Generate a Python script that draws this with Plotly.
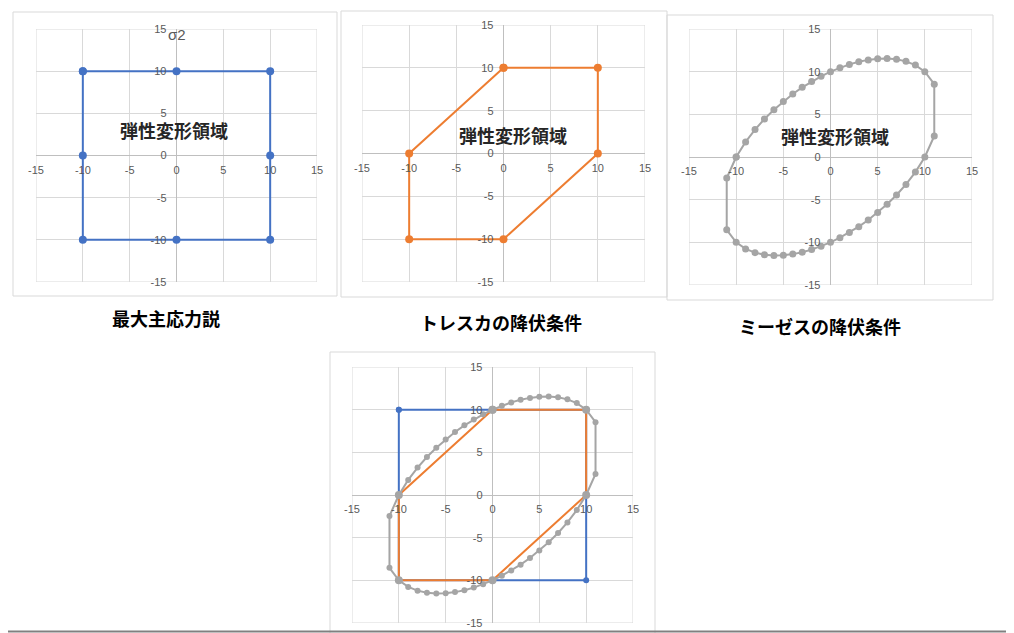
import plotly.graph_objects as go

W, H = 1014, 633
OFF = 8  # ページの余白

# 最大主応力説
max_x = [-10, 0, 10, 10, 10, 0, -10, -10, -10]
max_y = [10, 10, 10, 0, -10, -10, -10, 0, 10]

# トレスカの降伏条件
tresca_x = [0, 10, 10, 0, -10, -10, 0]
tresca_y = [10, 10, 0, -10, -10, 0, 10]

# ミーゼスの降伏条件 (読み取り値)
mises_x = [-10, -9, -8, -7, -6, -5, -4, -3, -2, -1, 0, 1, 2, 3, 4, 5, 6, 7, 8, 9, 10, 11,
           11, 10, 9, 8, 7, 6, 5, 4, 3, 2, 1, 0, -1, -2, -3, -4, -5, -6, -7, -8, -9, -10, -11,
           -11, -10]
mises_y = [0, 1.77, 3.21, 4.45, 5.54, 6.51, 7.38, 8.16, 8.85, 9.46, 10, 10.46, 10.85, 11.16,
           11.38, 11.51, 11.54, 11.45, 11.21, 10.77, 10, 8.54,
           2.46, 0, -1.77, -3.21, -4.45, -5.54, -6.51, -7.38, -8.16, -8.85, -9.46, -10, -10.46,
           -10.85, -11.16, -11.38, -11.51, -11.54, -11.45, -11.21, -10.77, -10, -8.54,
           -2.46, 0]

tick_vals = [-15, -10, -5, 0, 5, 10, 15]
tick_text = ["-15", "-10", "-5", "0", "5", "10", "15"]

label_area = "弾性変形領域"
titles = ["最大主応力説", "トレスカの降伏条件", "ミーゼスの降伏条件"]

BLUE, ORANGE, GREY = "#4472C4", "#ED7D31", "#A5A5A5"
JP = "Noto Sans CJK JP"


def fx(px):
    return (px - OFF) / W


def fy(py):
    return 1 - (py - OFF) / H


# プロット領域 (ピクセル: 左, 右, 上, 下)
areas = [(36, 317, 29, 282), (362, 645, 25, 282), (689, 972, 29, 285), (352, 633, 367, 623)]
# グラフの枠
frames = [(13, 337, 12, 296), (341, 667, 11, 297), (667, 993, 15, 300), (330, 655, 352, 645)]

fig = go.Figure()


def add_line(n, xs, ys, color, msize, mcolor=None):
    fig.add_trace(go.Scatter(
        x=xs, y=ys, mode="lines+markers",
        line=dict(color=color, width=2),
        marker=dict(color=mcolor or color, size=msize),
        xaxis="x" if n == 1 else f"x{n}",
        yaxis="y" if n == 1 else f"y{n}",
        showlegend=False, hoverinfo="x+y",
    ))


add_line(1, max_x, max_y, BLUE, 8)
add_line(2, tresca_x, tresca_y, ORANGE, 8)
add_line(3, mises_x, mises_y, GREY, 7)
add_line(4, max_x, max_y, BLUE, 6)
add_line(4, tresca_x, tresca_y, ORANGE, 8, GREY)
add_line(4, mises_x, mises_y, GREY, 6)

layout = dict(
    width=W, height=H,
    margin=dict(l=0, r=0, t=0, b=0, pad=0, autoexpand=False),
    paper_bgcolor="white", plot_bgcolor="white",
    font=dict(family="Liberation Sans", color="#595959", size=10),
)

shapes = []
annotations = []
for i, (l, r, t, b) in enumerate(areas):
    n = i + 1
    xk = "xaxis" if n == 1 else f"xaxis{n}"
    yk = "yaxis" if n == 1 else f"yaxis{n}"
    xref = "x" if n == 1 else f"x{n}"
    yref = "y" if n == 1 else f"y{n}"
    common = dict(range=[-15, 15], tickvals=tick_vals, ticktext=tick_text,
                  showgrid=True, gridcolor="#d9d9d9", gridwidth=1,
                  zeroline=True, zerolinecolor="#bfbfbf", zerolinewidth=1,
                  showline=False, ticks="", fixedrange=True, automargin=False,
                  tickfont=dict(size=11, color="#595959"))
    layout[xk] = dict(common, domain=[fx(l), fx(r)], anchor="free",
                      position=fy((t + b) / 2), ticklabelstandoff=6)
    layout[yk] = dict(common, domain=[fy(b), fy(t)], anchor="free",
                      position=fx((l + r) / 2), ticklabelstandoff=10)
    # プロット領域の外枠 (±15 のグリッド線)
    shapes.append(dict(type="rect", xref=xref, yref=yref, x0=-15, x1=15, y0=-15, y1=15,
                       line=dict(color="#d9d9d9", width=1), layer="below"))

for (l, r, t, b) in frames:
    shapes.append(dict(type="rect", xref="paper", yref="paper",
                       x0=fx(l), x1=fx(r), y0=fy(b), y1=fy(t),
                       line=dict(color="#d9d9d9", width=1)))

# 画面の枠
shapes.append(dict(type="line", xref="paper", yref="paper", x0=fx(1011), x1=fx(1011),
                   y0=fy(-10), y1=fy(631.5), line=dict(color="#808080", width=2)))
shapes.append(dict(type="line", xref="paper", yref="paper", x0=fx(-10), x1=fx(1012),
                   y0=fy(631.5), y1=fy(631.5), line=dict(color="#808080", width=2)))

# 弾性変形領域
for n, (x, y) in zip([1, 2, 3], [(-0.3, 3.0), (1.0, 2.2), (0.5, 2.5)]):
    annotations.append(dict(text=label_area, x=x, y=y,
                            xref="x" if n == 1 else f"x{n}",
                            yref="y" if n == 1 else f"y{n}",
                            xanchor="center", yanchor="middle", showarrow=False,
                            font=dict(family=JP, size=18, color="#262626", weight="bold")))

for text, (px, py) in zip(titles, [(166, 318), (501, 322), (820, 326)]):
    annotations.append(dict(text=text, x=fx(px), y=fy(py), xref="paper", yref="paper",
                            xanchor="center", yanchor="middle", showarrow=False,
                            font=dict(family=JP, size=18, color="#000000", weight="bold")))

annotations.append(dict(text="σ2", x=fx(176.5), y=fy(35), xref="paper", yref="paper",
                        xanchor="center", yanchor="middle", showarrow=False,
                        font=dict(family="Liberation Sans", size=15, color="#595959")))

layout["shapes"] = shapes
layout["annotations"] = annotations
fig.update_layout(**layout)

fig.write_html("out.html")
